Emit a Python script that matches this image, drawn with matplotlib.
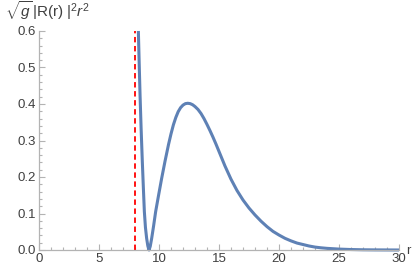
import numpy as np
import matplotlib
matplotlib.use('Agg')
import matplotlib.pyplot as plt
from matplotlib.ticker import MultipleLocator, FormatStrFormatter

# values
r_vals = [8.28, 8.35, 8.42, 8.51, 8.61, 8.70, 8.78, 8.87, 8.97, 9.07, 9.17,
          9.27, 9.39, 9.55, 9.72, 9.97, 10.22, 10.50, 10.80, 11.00, 11.20,
          11.40, 11.60, 11.80, 12.00, 12.20, 12.40, 12.60, 12.80, 13.00,
          13.25, 13.50, 13.75, 14.00, 14.25, 14.50, 14.75, 15.00, 15.50,
          16.00, 16.50, 17.00, 17.50, 18.00, 18.50, 19.00, 19.50, 20.00,
          20.50, 21.00, 21.50, 22.00, 22.50, 23.00, 23.50, 24.00, 25.00,
          26.00, 27.00, 28.00, 30.00]
density = [0.600, 0.510, 0.425, 0.332, 0.242, 0.168, 0.105, 0.062, 0.032,
           0.011, 0.000, 0.010, 0.032, 0.066, 0.105, 0.151, 0.196, 0.243,
           0.290, 0.318, 0.343, 0.363, 0.379, 0.390, 0.397, 0.401, 0.402,
           0.401, 0.398, 0.393, 0.385, 0.374, 0.360, 0.344, 0.327, 0.309,
           0.290, 0.270, 0.230, 0.194, 0.163, 0.137, 0.115, 0.096, 0.079,
           0.064, 0.051, 0.041, 0.032, 0.025, 0.019, 0.015, 0.011, 0.008,
           0.006, 0.0045, 0.0025, 0.0013, 0.0006, 0.0003, 0.000]
r_cut = 8.0

axis_col = '#b3b3b3'
text_col = '#404040'
plt.rcParams['font.family'] = ['Liberation Sans', 'DejaVu Sans']
plt.rcParams['mathtext.fontset'] = 'custom'
plt.rcParams['mathtext.rm'] = 'Liberation Sans'
plt.rcParams['mathtext.it'] = 'Liberation Sans:italic'

fig = plt.figure(figsize=(4.13, 2.72), dpi=100)
ax = fig.add_axes([39 / 413, 1 - 250 / 272, 360 / 413, 219 / 272])

ax.plot([r_cut, r_cut], [0, 0.6], color='red', linestyle=(0, (3, 2)), linewidth=1.3)
ax.plot(r_vals, density, color='#5e81b5', linewidth=2.2, solid_capstyle='butt',
        solid_joinstyle='round', clip_on=False)

ax.set_xlim(0, 30)
ax.set_ylim(0, 0.6)
for s in ['top', 'right']:
    ax.spines[s].set_visible(False)
for s in ['left', 'bottom']:
    ax.spines[s].set_color(axis_col)
    ax.spines[s].set_linewidth(0.9)

ax.xaxis.set_major_locator(MultipleLocator(5))
ax.xaxis.set_minor_locator(MultipleLocator(1))
ax.yaxis.set_major_locator(MultipleLocator(0.1))
ax.yaxis.set_minor_locator(MultipleLocator(0.02))
ax.yaxis.set_major_formatter(FormatStrFormatter('%.1f'))
ax.tick_params(which='both', direction='in', color=axis_col, labelcolor=text_col,
               labelsize=9.5, width=0.8)
ax.tick_params(which='major', length=4, pad=2)
ax.tick_params(which='minor', length=2.2)

fig.text(5 / 413, 1 - 17 / 272, r'$\sqrt{g}\,|\mathrm{R(r)}\;|^2 r^2$',
         color=text_col, fontsize=11, ha='left', va='baseline')
fig.text(406 / 413, 1 - 251 / 272, 'r', color=text_col, fontsize=9.5,
         ha='left', va='center')

fig.savefig('out.png', dpi=100)
